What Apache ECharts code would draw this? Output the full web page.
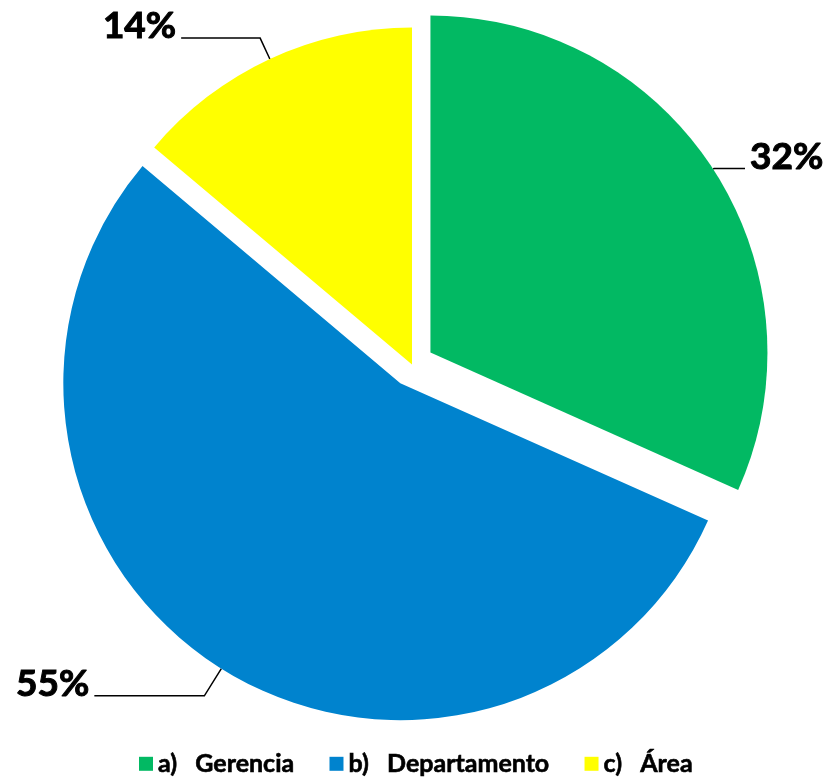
<!DOCTYPE html>
<html>
<head>
<meta charset="utf-8">
<script src="https://cdn.jsdelivr.net/npm/echarts@6/dist/echarts.min.js"></script>
<style>
  html, body { margin: 0; padding: 0; background: #ffffff; }
  #chart { width: 835px; height: 781px; }
</style>
</head>
<body>
<div id="chart"></div>
<script>
// Categories and their shares (percent)
const categories = ['a)   Gerencia', 'b)   Departamento', 'c)   Área'];
const shares = [32, 55, 14];
const colors = ['#02B963', '#0083CE', '#FFFF00'];
// Which slices are pulled out from the centre
const exploded = [true, true, false];
// Leader line lengths per slice: [radial, horizontal]
const leaderLengths = [[1, 31], [32, 110], [23, 79]];

const chart = echarts.init(document.getElementById('chart'));

const pieData = categories.map((name, i) => ({
  name: name,
  value: shares[i],
  selected: exploded[i],
  itemStyle: { color: colors[i] },
  labelLine: { length: leaderLengths[i][0], length2: leaderLengths[i][1] }
}));

chart.setOption({
  animation: false,
  backgroundColor: '#ffffff',
  legend: {
    data: categories,
    left: 134,
    top: 746,
    icon: 'rect',
    itemWidth: 14,
    itemHeight: 14,
    itemGap: 35,
    selectedMode: false,
    textStyle: {
      fontFamily: 'Lato',
      fontWeight: 'bold',
      fontSize: 25,
      color: '#000000',
      textBorderColor: '#000000',
      textBorderWidth: 0.6
    }
  },
  series: [{
    type: 'pie',
    center: [412, 364.5],
    radius: 337,
    startAngle: 90,
    clockwise: true,
    selectedMode: 'multiple',
    selectedOffset: 22,
    avoidLabelOverlap: false,
    emphasis: { disabled: true },
    label: {
      show: true,
      position: 'outside',
      // trailing empty line lifts the value above its leader line
      formatter: '{c}%\n',
      lineHeight: 24,
      fontFamily: 'Lato',
      fontWeight: 'bold',
      fontSize: 37,
      color: '#000000',
      textBorderColor: '#000000',
      textBorderWidth: 1,
      distanceToLabelLine: 5
    },
    labelLine: {
      show: true,
      smooth: false,
      lineStyle: { color: '#000000', width: 1.5 }
    },
    data: pieData
  }]
});
</script>
</body>
</html>
